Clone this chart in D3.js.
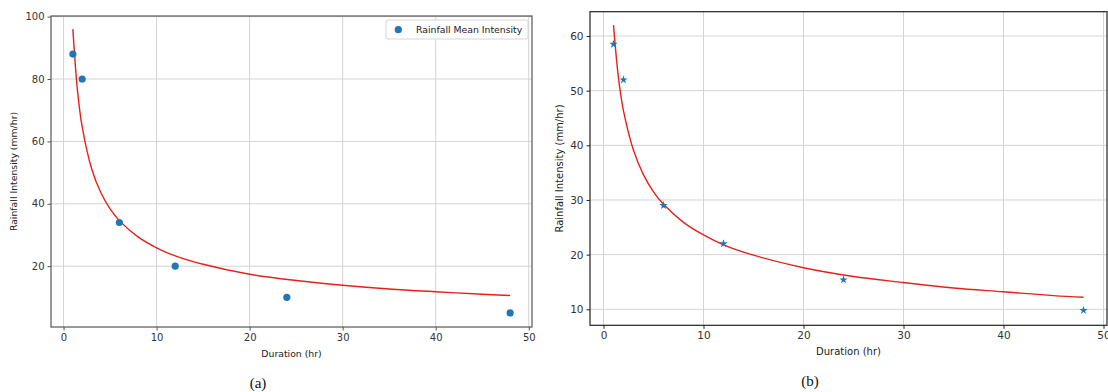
<!DOCTYPE html>
<html>
<head>
<meta charset="utf-8">
<script src="https://cdn.jsdelivr.net/npm/d3@7"></script>
<style>
  body { margin: 0; background: #fff; }
  svg { display: block; }
  .tick text { font-family: "DejaVu Sans", sans-serif; fill: #333; }
  .lbl { font-family: "DejaVu Sans", sans-serif; fill: #222; }
  .cap { font-family: "Liberation Serif", "Times New Roman", serif; fill: #111; }
</style>
</head>
<body>
<svg id="chart" width="1108" height="392"></svg>
<script>
// observed points (shared durations)
const durations = [1, 2, 6, 12, 24, 48];
const intensityA = [88, 80, 34, 20, 10, 5];
const intensityB = [58.5, 52, 29, 22, 15.4, 9.8];

// fitted curve
const curveDur = [1, 1.5, 2, 3, 4, 5, 6, 8, 10, 12, 15, 20, 25, 30, 35, 40, 45, 48];
const curveA = [96, 76.2, 64.7, 51.4, 43.6, 38.4, 34.6, 29.4, 25.9, 23.3, 20.6, 17.4, 15.4, 13.9, 12.7, 11.8, 11.0, 10.6];
const curveB = [62, 52.3, 46.3, 39.1, 34.6, 31.5, 29.2, 25.9, 23.6, 21.8, 19.9, 17.6, 16.0, 14.9, 13.9, 13.2, 12.5, 12.2];

const xTicks = [0, 10, 20, 30, 40, 50];
const yTicksA = [20, 40, 60, 80, 100];
const yTicksB = [10, 20, 30, 40, 50, 60];

const svg = d3.select('#chart');

function panel(opts) {
  const x = d3.scaleLinear().domain([-1.35, 50.35]).range([opts.left, opts.right]);
  const y = d3.scaleLinear().domain(opts.yDomain).range([opts.bottom, opts.top]);
  const g = svg.append('g');

  // grid
  g.append('g').selectAll('line').data(xTicks.filter(d => x(d) <= opts.right))
    .enter().append('line')
    .attr('x1', d => x(d)).attr('x2', d => x(d))
    .attr('y1', opts.top).attr('y2', opts.bottom)
    .attr('stroke', '#d3d3d3').attr('stroke-width', 1);
  g.append('g').selectAll('line').data(opts.yTicks)
    .enter().append('line')
    .attr('x1', opts.left).attr('x2', opts.right)
    .attr('y1', d => y(d)).attr('y2', d => y(d))
    .attr('stroke', '#d3d3d3').attr('stroke-width', 1);

  // axes
  const xa = g.append('g').attr('transform', 'translate(0,' + opts.bottom + ')')
    .call(d3.axisBottom(x).tickValues(xTicks).tickSize(3.5).tickPadding(3).tickFormat(d3.format('d')));
  const ya = g.append('g').attr('transform', 'translate(' + opts.left + ',0)')
    .call(d3.axisLeft(y).tickValues(opts.yTicks).tickSize(3.5).tickPadding(3).tickFormat(d3.format('d')));
  [xa, ya].forEach(a => {
    a.select('.domain').remove();
    a.selectAll('.tick line').attr('stroke', opts.spine);
    a.selectAll('.tick text').style('font-size', opts.tickFont + 'px');
  });

  // frame
  g.append('rect')
    .attr('x', opts.left).attr('y', opts.top)
    .attr('width', opts.right - opts.left).attr('height', opts.bottom - opts.top)
    .attr('fill', 'none').attr('stroke', opts.spine).attr('stroke-width', 1.2);

  // fitted curve
  const line = d3.line().x(d => x(d[0])).y(d => y(d[1])).curve(d3.curveCatmullRom.alpha(0.5));
  g.append('path')
    .datum(curveDur.map((d, i) => [d, opts.curve[i]]))
    .attr('d', line)
    .attr('fill', 'none').attr('stroke', '#e8201c').attr('stroke-width', 1.4);

  // points
  const pts = durations.map((d, i) => [d, opts.points[i]]);
  if (opts.marker === 'circle') {
    g.append('g').selectAll('circle').data(pts).enter().append('circle')
      .attr('cx', d => x(d[0])).attr('cy', d => y(d[1])).attr('r', 3.6)
      .attr('fill', '#1f77b4');
  } else {
    const star = d3.symbol().type(d3.symbolStar).size(22);
    g.append('g').selectAll('path').data(pts).enter().append('path')
      .attr('transform', d => 'translate(' + x(d[0]) + ',' + y(d[1]) + ')')
      .attr('d', star).attr('fill', '#1f77b4');
  }

  // labels
  g.append('text').attr('class', 'lbl')
    .attr('x', (opts.left + opts.right) / 2).attr('y', opts.xLabelY)
    .attr('text-anchor', 'middle').style('font-size', opts.labelFont + 'px')
    .text('Duration (hr)');
  g.append('text').attr('class', 'lbl')
    .attr('transform', 'translate(' + opts.yLabelX + ',' + (opts.top + opts.bottom) / 2 + ') rotate(-90)')
    .attr('text-anchor', 'middle').style('font-size', opts.labelFont + 'px')
    .text('Rainfall Intensity (mm/hr)');
  g.append('text').attr('class', 'cap')
    .attr('x', opts.capX).attr('y', opts.capY)
    .attr('text-anchor', 'middle').style('font-size', '15px')
    .text(opts.caption);

  return { g: g, x: x, y: y };
}

const a = panel({
  left: 51, right: 532, top: 16, bottom: 327,
  yDomain: [0.5, 100.2], yTicks: yTicksA,
  curve: curveA, points: intensityA, marker: 'circle',
  spine: '#555', tickFont: 10, labelFont: 9.3,
  xLabelY: 357, yLabelX: 17,
  capX: 258, capY: 388, caption: '(a)'
});

const b = panel({
  left: 590, right: 1107, top: 11.7, bottom: 325.3,
  yDomain: [7.07, 64.45], yTicks: yTicksB,
  curve: curveB, points: intensityB, marker: 'star',
  spine: '#222', tickFont: 10.5, labelFont: 10,
  xLabelY: 355, yLabelX: 563,
  capX: 810, capY: 386, caption: '(b)'
});

// legend (panel a)
const leg = a.g.append('g');
leg.append('rect')
  .attr('x', 386).attr('y', 20).attr('width', 142).attr('height', 19).attr('rx', 2)
  .attr('fill', '#fff').attr('fill-opacity', 0.85)
  .attr('stroke', '#d6d6d6').attr('stroke-width', 1);
leg.append('circle').attr('cx', 398.3).attr('cy', 29.7).attr('r', 3.6).attr('fill', '#1f77b4');
leg.append('text').attr('class', 'lbl')
  .attr('x', 416).attr('y', 33).style('font-size', '9.3px')
  .text('Rainfall Mean Intensity');
</script>
</body>
</html>
